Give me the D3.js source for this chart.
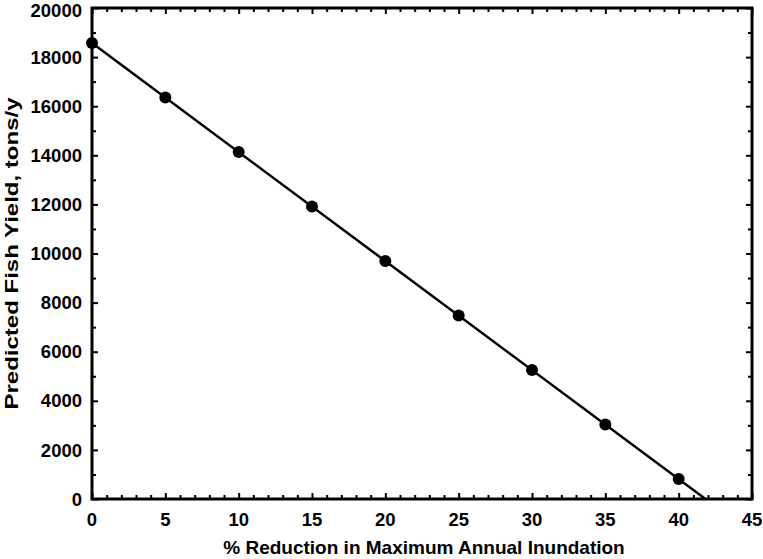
<!DOCTYPE html>
<html>
<head>
<meta charset="utf-8">
<script src="https://cdn.jsdelivr.net/npm/d3@7"></script>
<style>
	body { margin: 0; background: #fff; }
	text { font-family: 'Liberation Sans', Arial, sans-serif; font-weight: bold; fill: #000; }
</style>
</head>
<body>
<div id="js_chart"></div>
<script>
	'use strict';
	// data
	const reduction = [0, 5, 10, 15, 20, 25, 30, 35, 40];
	const fishYield = [18570, 16350, 14130, 11910, 9690, 7470, 5250, 3030, 810];
	// fitted line, from x=0 to where it meets zero
	const fitX = [0, 41.83];
	const fitY = [18570, 0];
	const xTicks = [0, 5, 10, 15, 20, 25, 30, 35, 40, 45];
	const yTicks = [0, 2000, 4000, 6000, 8000, 10000, 12000, 14000, 16000, 18000, 20000];

	const width = 763, height = 559;
	const margin = { top: 8, right: 11, bottom: 60, left: 92 };
	const innerW = width - margin.left - margin.right;
	const innerH = height - margin.top - margin.bottom;

	const svg = d3.select('#js_chart').append('svg')
		.attr('width', width)
		.attr('height', height)
		.append('g')
		.attr('transform', 'translate(' + margin.left + ',' + margin.top + ')');

	const x = d3.scaleLinear().domain([0, 45]).range([0, innerW]);
	const y = d3.scaleLinear().domain([0, 20000]).range([innerH, 0]);

	// minor ticks, inward
	const xMinor = d3.range(0, 46, 1).filter(function (d) { return d % 5 !== 0; });
	const yMinor = d3.range(1000, 20000, 2000);

	function tickAxis(axis, ticks, size) {
		return axis.tickValues(ticks).tickSize(size).tickFormat('');
	}

	// ticks on all four sides, pointing inward
	svg.append('g').attr('transform', 'translate(0,' + innerH + ')')
		.call(tickAxis(d3.axisTop(x), xMinor, 4));
	svg.append('g').attr('transform', 'translate(0,' + innerH + ')')
		.call(tickAxis(d3.axisTop(x), xTicks, 6));
	svg.append('g').call(tickAxis(d3.axisBottom(x), xMinor, 4));
	svg.append('g').call(tickAxis(d3.axisBottom(x), xTicks, 6));
	svg.append('g').call(tickAxis(d3.axisRight(y), yMinor, 4));
	svg.append('g').call(tickAxis(d3.axisRight(y), yTicks, 6));
	svg.append('g').attr('transform', 'translate(' + innerW + ',0)')
		.call(tickAxis(d3.axisLeft(y), yMinor, 4));
	svg.append('g').attr('transform', 'translate(' + innerW + ',0)')
		.call(tickAxis(d3.axisLeft(y), yTicks, 6));

	svg.selectAll('.tick line').style('stroke', '#000').style('stroke-width', 2);
	svg.selectAll('.domain').remove();

	// tick labels
	svg.selectAll('.xLabel').data(xTicks).enter().append('text')
		.attr('x', function (d) { return x(d); })
		.attr('y', innerH + 27)
		.style('text-anchor', 'middle')
		.style('font-size', '18.5px')
		.text(function (d) { return d; });
	svg.selectAll('.yLabel').data(yTicks).enter().append('text')
		.attr('x', -10)
		.attr('y', function (d) { return Math.max(y(d), 2); })
		.attr('dy', '0.36em')
		.style('text-anchor', 'end')
		.style('font-size', '18.5px')
		.text(function (d) { return d; });

	// frame
	svg.append('rect')
		.attr('x', 0).attr('y', 0)
		.attr('width', innerW).attr('height', innerH)
		.style('fill', 'none')
		.style('stroke', '#000')
		.style('stroke-width', 3);

	// fitted line
	const line = d3.line()
		.x(function (d) { return x(d[0]); })
		.y(function (d) { return y(d[1]); });
	svg.append('path')
		.datum(d3.zip(fitX, fitY))
		.attr('d', line)
		.style('fill', 'none')
		.style('stroke', '#000')
		.style('stroke-width', 2.5);

	// points
	svg.selectAll('.pt').data(d3.zip(reduction, fishYield)).enter().append('circle')
		.attr('cx', function (d) { return x(d[0]); })
		.attr('cy', function (d) { return y(d[1]); })
		.attr('r', 6)
		.style('fill', '#000');

	// axis titles
	svg.append('text')
		.attr('x', innerW / 2 + 2)
		.attr('y', innerH + 55)
		.style('text-anchor', 'middle')
		.style('font-size', '19px')
		.text('% Reduction in Maximum Annual Inundation');
	svg.append('text')
		.attr('transform', 'translate(' + (-margin.left + 18) + ',' + (innerH / 2) + ') rotate(-90)')
		.style('text-anchor', 'middle')
		.style('font-size', '19px')
		.attr('textLength', 312)
		.attr('lengthAdjust', 'spacingAndGlyphs')
		.text('Predicted Fish Yield, tons/y');
</script>
</body>
</html>
